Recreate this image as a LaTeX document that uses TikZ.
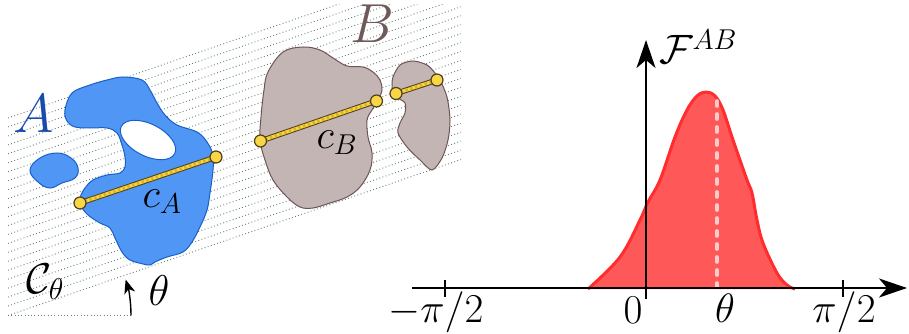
\RequirePackage{fix-cm}
\documentclass[tikz,border=0pt]{standalone}
\usetikzlibrary{arrows.meta}
\definecolor{hatch}{RGB}{100,130,118}
\definecolor{blobA}{RGB}{80,150,245}
\definecolor{blobAline}{RGB}{25,95,200}
\definecolor{labA}{RGB}{25,75,170}
\definecolor{blobB}{RGB}{196,181,181}
\definecolor{blobBline}{RGB}{110,85,85}
\definecolor{labB}{RGB}{110,90,90}
\definecolor{segY}{RGB}{248,214,70}
\definecolor{segD}{RGB}{220,180,35}
\definecolor{segO}{RGB}{80,65,30}
\definecolor{curveF}{RGB}{255,88,88}
\definecolor{curveL}{RGB}{255,45,45}
\definecolor{dashW}{RGB}{255,225,225}
\newcommand{\myfs}[1]{\fontsize{#1}{#1}\selectfont}
\begin{document}
\begin{tikzpicture}[x=1pt,y=-1pt,
  hatchline/.style={draw=hatch, line width=0.9pt, dash pattern=on 0.9pt off 2.4pt},
  blobAstyle/.style={fill=blobA, draw=blobAline, line width=1pt},
  blobBstyle/.style={fill=blobB, draw=blobBline, line width=1pt},
  endpt/.style={circle, fill=segY, draw=segO, line width=1.2pt, minimum size=12pt, inner sep=0pt},
  lab/.style={inner sep=0pt, anchor=base},
  axisline/.style={line width=2pt, -{Stealth[length=28pt,width=19pt,inset=8pt]}},
  tick/.style={line width=1.5pt}
]
\useasboundingbox (0,0) rectangle (909,334);

% hatching
\begin{scope}
\clip (8,5) rectangle (461,320);
\foreach \k in {1,...,22} {
  \draw[hatchline] (8,{315-\k*8.955}) -- ++(453,{-453*0.3443});
}
\end{scope}
\coordinate (o) at (8,315.5);
\coordinate (oh) at (131,315.5);
\coordinate (ot) at (461,159.5);
\draw[hatchline] (o) -- (ot);
\draw[hatchline] (o) -- (oh);
\draw[line width=1.4pt, -{Stealth[length=14pt,width=11pt,inset=4pt]}] (oh) arc[start angle=0, end angle=-17, radius=123];

% blob A
\path[blobAstyle] plot[smooth cycle, tension=0.6] coordinates {
 (65,110) (72,93) (90,85) (107,80) (123,77) (142,80) (150,90) (157,103) (165,115)
 (177,125) (197,132) (207,142) (213,155) (213,170) (210,193) (207,210) (200,227)
 (192,242) (183,252) (167,257) (155,262) (150,265) (143,264) (130,260) (122,252)
 (115,238) (110,228) (100,223) (88,215) (81,206) (80,198) (85,188) (93,180)
 (107,175) (120,173) (125,167) (125,157) (122,145) (117,133) (107,128) (90,128)
 (75,127) (67,121)};
\path[fill=white, draw=blobAline, line width=1pt] (148,140) ellipse[x radius=30, y radius=16, rotate=-27];
\path[blobAstyle] plot[smooth cycle, tension=0.7] coordinates {
 (30,170) (40,158) (57,153) (71,158) (78,168) (75,178) (62,183) (50,188) (38,182)};

% blob B
\path[blobBstyle] plot[smooth cycle, tension=0.6] coordinates {
 (303,47) (320,50) (333,58) (347,66) (363,67) (373,72) (380,80) (382,90) (378,100)
 (372,110) (367,120) (368,137) (372,153) (370,170) (360,187) (347,197) (330,203)
 (313,208) (300,207) (287,197) (273,180) (265,160) (260,140) (261,117) (264,90)
 (268,72) (283,52)};
\path[blobBstyle] plot[smooth cycle, tension=0.5] coordinates {
 (393,77) (400,65) (413,61) (427,65) (435,73) (440,80) (447,97) (450,120) (448,140)
 (442,158) (432,170) (420,160) (407,147) (398,133) (400,123) (405,113) (405,103)
 (398,98) (393,92) (392,85)};

% chords
\coordinate (a1) at (80,203);
\coordinate (a2) at (216,157);
\coordinate (b1) at (260.5,141);
\coordinate (b2) at (376.5,101);
\coordinate (s1) at (396,93.5);
\coordinate (s2) at (437,80);
\foreach \p/\q in {a1/a2, b1/b2, s1/s2} {
  \draw[segO, line width=5.5pt] (\p) -- (\q);
  \draw[segY, line width=3.4pt] (\p) -- (\q);
  \draw[segD, line width=3.4pt, dash pattern=on 2.5pt off 2.5pt] (\p) -- (\q);
  \node[endpt] at (\p) {};
  \node[endpt] at (\q) {};
}

% labels left
\node[lab, text=labA] (labA) at (34,132) {\myfs{55}$A$};
\node[lab, text=labB] (labB) at (372,43) {\myfs{55}$B$};
\node[lab] (cA) at (162,207) {\myfs{41}$c_A$};
\node[lab] (cB) at (337,148) {\myfs{41}$c_B$};
\node[lab] (Ct) at (45,293) {\myfs{43}$\mathcal{C}_\theta$};
\node[lab] (th) at (159,305) {\myfs{43}$\theta$};

% curve
\path[fill=curveF] plot[smooth, tension=0.6] coordinates {
 (588,289) (620,257) (640,220) (648,202) (660,180) (675,137) (687,110) (697,96)
 (706,92) (715,96) (723,110) (733,140) (747,180) (752,193) (757,220) (763,243)
 (777,273) (787,285) (795,289)} -- cycle;
\draw[curveL, line width=3pt, line join=round] plot[smooth, tension=0.6] coordinates {
 (588,289) (620,257) (640,220) (648,202) (660,180) (675,137) (687,110) (697,96)
 (706,92) (715,96) (723,110) (733,140) (747,180) (752,193) (757,220) (763,243)
 (777,273) (787,285) (795,289)};
\coordinate (mt) at (717,101);
\coordinate (mb) at (717,287);
\draw[dashW, opacity=0.85, line width=3.6pt, line cap=round, dash pattern=on 5pt off 8pt] (mt) -- (mb);

% axes
\coordinate (xl) at (412,288);
\coordinate (xr) at (907,288);
\coordinate (yb) at (646,299);
\coordinate (yt) at (646,40);
\draw[axisline] (xl) -- (xr);
\draw[axisline] (yb) -- (yt);
\coordinate (t1a) at (445,280);
\coordinate (t1b) at (445,297);
\coordinate (t2a) at (843,280);
\coordinate (t2b) at (843,297);
\draw[tick] (t1a) -- (t1b);
\draw[tick] (t2a) -- (t2b);

\node[lab] (F) at (698,64) {\myfs{41}$\mathcal{F}^{AB}$};
\node[lab] (lm) at (436,322) {\myfs{41}$-\pi/2$};
\node[lab] (l0) at (633,323) {\myfs{41}$0$};
\node[lab] (lt) at (725,322) {\myfs{41}$\theta$};
\node[lab] (lp) at (844,322) {\myfs{41}$\pi/2$};
\end{tikzpicture}
\end{document}
